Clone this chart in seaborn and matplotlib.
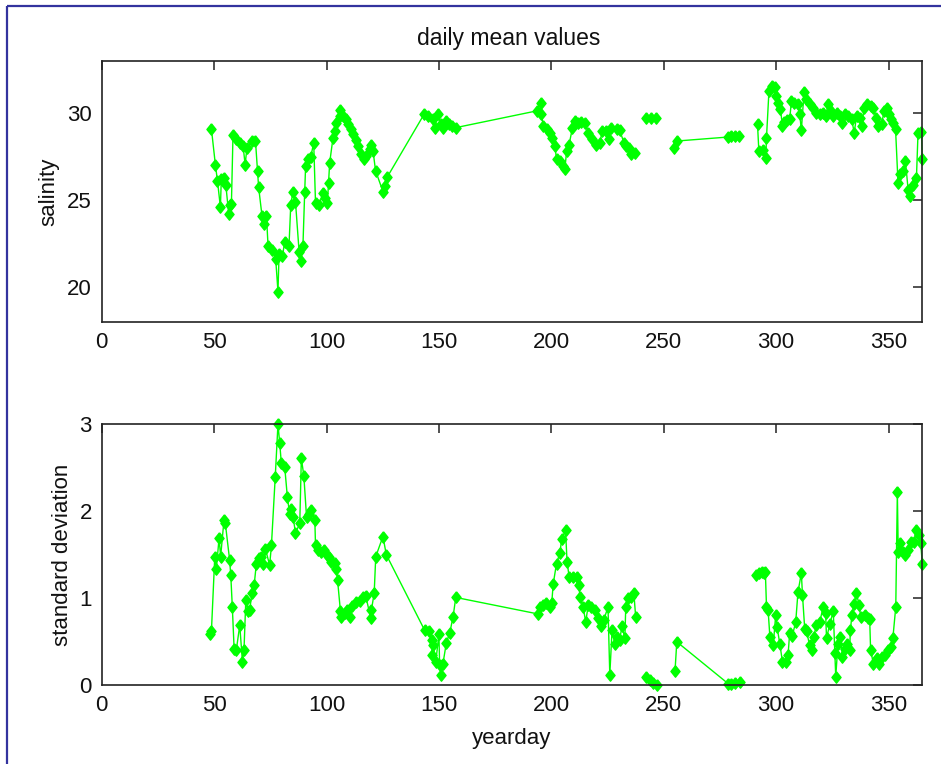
import numpy as np
import pandas as pd
import matplotlib
matplotlib.use("Agg")
import matplotlib.pyplot as plt
import seaborn as sns
from matplotlib.lines import Line2D

nan = np.nan

# ---- daily mean salinity (NaN marks a gap in the record) ----
sal_day = [48.8, 50.6, 51.5, 52.8, 53.2, 54.4, 55.2, 56.5, 56.9, 57.7, 58.4, 59.9, 61.4, 62.9,
           63.8, 64.6, 66.9, 68.4, 69.3, 69.8, 71.3, 72.2, 73.3, 74.0, 75.9, 77.4, 78.4, 78.9,
           80.4, 81.4, 83.3, 84.1, 85.1, 86.2, 87.8, 88.5, 89.5, 90.3, 90.7, 91.8, 93.0, 94.3,
           95.1, 96.7, 98.4, 99.2, 100.4, 100.9, 101.4, 102.9, 103.9, 104.4, 105.9, 106.2, 107.3,
           108.5, 109.6, 111.1, 111.8, 112.9, 114.0, 115.2, 116.5, 117.7, 119.2, 120.0, 120.7,
           121.8, 125.1, 125.9, 127.1, 143.4, 145.2, 147.4, 148.1, 149.6, 150.8, 151.8, 153.3,
           154.5, 155.6, 157.5, 193.4, 195.3, 195.6, 196.4, 197.9, 199.3, 200.5, 201.6, 202.3,
           203.8, 205.0, 206.0, 206.8, 207.9, 209.4, 210.5, 211.9, 213.4, 214.9, 216.4, 218.1,
           219.8, 221.5, 222.7, 224.5, 225.5, 226.7, 229.0, 230.4, 232.3, 233.4, 234.6, 235.6,
           237.1, 239.5, 242.3, 244.5, 246.7, 250.5, 254.5, 255.7, 278.6, 280.1, 281.6, 283.5,
           287.5, 291.7, 292.3, 294.2, 295.4, 295.7, 296.8, 298.3, 299.4, 299.8, 300.9, 301.9,
           302.8, 303.5, 304.9, 306.0, 306.8, 307.8, 309.5, 310.5, 311.2, 312.4, 313.4, 315.2,
           316.4, 317.9, 319.4, 320.9, 322.0, 323.1, 324.2, 325.4, 326.9, 328.4, 329.1, 330.6,
           332.1, 333.6, 334.7, 335.8, 337.3, 338.1, 339.1, 340.6, 342.1, 343.2, 344.4, 345.4,
           346.9, 348.0, 349.1, 350.3, 351.3, 352.0, 353.1, 354.2, 355.3, 356.5, 357.5, 358.7,
           359.7, 360.9, 362.4, 363.1, 364.6, 365.0]
salinity = [29.1, 27.0, 26.1, 24.6, 26.2, 26.3, 25.9, 24.2, 24.7, 24.8, 28.75, 28.5, 28.3, 28.1,
            27.05, 28.0, 28.4, 28.4, 26.7, 25.75, 24.1, 23.65, 24.1, 22.35, 22.15, 21.6, 19.75, 21.9,
            21.8, 22.6, 22.35, 24.75, 25.5, 24.9, 22.05, 21.5, 22.35, 25.5, 26.96, 27.35, 27.5, 28.3,
            24.85, 24.75, 25.4, 25.1, 24.85, 26.0, 27.15, 28.6, 28.98, 29.46, 29.84, 30.17, 29.84,
            29.65, 29.37, 29.08, 28.79, 28.44, 28.1, 27.67, 27.35, 27.54, 27.92, 28.2, 27.83,
            26.7, 25.5, 25.8, 26.35, 29.94, 29.84, 29.65, 29.17, 29.94, 29.37, 29.17, 29.56,
            29.37, 29.27, 29.17, 30.13, 30.6, 29.94, 29.27, 29.08, 28.88, 28.6, 28.1, 27.35,
            27.25, 26.96, 26.77, 27.83, 28.2, 29.17, 29.56, 29.46, 29.5, 29.46, 28.88, 28.5,
            28.2, 28.3, 28.98, 28.98, 28.5, 29.17, 29.08, 29.02, 28.3, 28.1, 28.0, 27.63,
            27.73, nan, 29.75, 29.75, 29.75, nan, 28.0, 28.4, 28.63, 28.69, 28.69, 28.69,
            nan, 29.37, 27.83, 27.87, 27.44, 28.6, 31.3, 31.58, 31.5, 30.99, 30.6, 30.23,
            29.27, 29.5, 29.6, 29.65, 30.7, 30.6, 30.55, 29.94, 29.02, 31.2, 30.8, 30.52,
            30.32, 30.03, 29.94, 30.03, 29.84, 30.52, 30.13, 29.84, 30.03, 29.84, 29.46, 29.94,
            29.84, 29.65, 28.88, 29.84, 29.75, 29.27, 30.32, 30.52, 30.42, 30.32, 29.75, 29.27,
            29.37, 30.13, 30.32, 29.94, 29.65, 29.46, 29.08, 26.0, 26.48, 26.67, 27.25, 25.6,
            25.23, 25.9, 26.29, 28.88, 28.94, 27.35]

# ---- daily standard deviation ----
sd_day = [48.0, 48.8, 50.3, 51.0, 52.2, 52.9, 54.4, 55.0, 56.9, 57.4, 58.1, 58.9, 59.9, 61.4,
          62.6, 63.3, 64.1, 65.1, 65.8, 66.9, 67.8, 68.8, 70.0, 71.0, 71.8, 72.8, 74.7, 75.5,
          77.2, 78.4, 79.2, 79.9, 81.4, 82.6, 83.6, 84.4, 85.1, 86.2, 88.1, 88.8, 89.9, 91.1,
          92.1, 93.3, 94.8, 95.1, 96.3, 97.7, 98.8, 100.0, 101.2, 102.2, 103.7, 104.4, 104.9,
          106.2, 106.6, 108.1, 109.1, 110.3, 111.5, 112.9, 114.8, 116.3, 117.4, 119.7, 120.0,
          121.2, 121.9, 125.1, 126.6, 143.7, 145.6, 146.7, 147.1, 147.4, 148.6, 150.0, 150.3,
          151.1, 151.8, 153.3, 154.8, 156.3, 157.5, 194.1, 194.8, 196.3, 197.8, 199.3, 200.2,
          200.8, 202.3, 203.8, 204.6, 206.3, 207.0, 207.9, 209.7, 211.2, 212.3, 212.7, 214.1,
          215.3, 216.4, 217.8, 219.3, 220.8, 222.3, 223.3, 225.2, 226.0, 227.0, 228.2, 229.2,
          230.4, 231.4, 232.7, 233.1, 234.1, 235.6, 236.7, 237.5, 240.0, 242.3, 243.8, 245.3,
          247.1, 251.0, 255.0, 255.8, 278.6, 280.1, 281.6, 283.8, 287.5, 291.2, 292.3, 293.5,
          294.5, 295.2, 295.7, 296.4, 297.2, 298.7, 299.8, 300.4, 301.6, 302.8, 304.3, 305.3,
          306.0, 307.2, 308.7, 309.7, 311.2, 311.7, 312.7, 313.5, 314.9, 316.1, 316.7, 317.9,
          319.4, 320.9, 322.0, 322.4, 323.9, 325.4, 326.1, 326.5, 327.5, 328.6, 329.5, 330.5,
          331.7, 332.7, 333.0, 333.7, 334.6, 335.7, 336.9, 337.6, 339.4, 340.9, 341.6, 342.0,
          343.2, 344.7, 345.9, 346.9, 348.4, 349.9, 351.0, 351.9, 353.2, 353.9, 354.3, 355.3,
          356.2, 357.5, 358.7, 359.9, 361.2, 362.4, 363.4, 364.3, 365.0]
std_dev = [0.59, 0.62, 1.48, 1.34, 1.69, 1.48, 1.90, 1.86, 1.44, 1.27, 0.90, 0.42, 0.41, 0.69,
           0.27, 0.41, 0.98, 0.85, 0.87, 1.06, 1.15, 1.40, 1.46, 1.48, 1.40, 1.57, 1.38, 1.61,
           2.40, 3.00, 2.78, 2.55, 2.51, 2.16, 1.97, 2.03, 1.94, 1.75, 1.86, 2.61, 2.41, 1.94,
           1.97, 2.02, 1.90, 1.61, 1.55, 1.53, 1.55, 1.50, 1.48, 1.42, 1.41, 1.34, 1.21,
           0.85, 0.79, 0.83, 0.87, 0.78, 0.91, 0.96, 0.97, 1.01, 1.03, 0.77, 0.87,
           1.06, 1.48, 1.71, 1.50, 0.63, 0.62, 0.52, 0.35, 0.46, 0.27, 0.59, 0.23,
           0.12, 0.25, 0.49, 0.60, 0.79, 1.01, 0.82, 0.90, 0.92, 0.95, 0.90, 0.95,
           1.16, 1.40, 1.52, 1.68, 1.78, 1.42, 1.25, 1.25, 1.25, 1.15, 1.02, 0.90,
           0.73, 0.92, 0.90, 0.86, 0.77, 0.68, 0.75, 0.90, 0.12, 0.63, 0.48, 0.56,
           0.52, 0.68, 0.54, 0.90, 1.00, 1.02, 1.06, 0.79, nan, 0.10, 0.06, 0.03,
           0.00, nan, 0.16, 0.50, 0.02, 0.01, 0.03, 0.04, nan, 1.27, 1.29, 1.30,
           1.29, 1.30, 0.90, 0.87, 0.56, 0.46, 0.81, 0.67, 0.48, 0.27, 0.27, 0.35,
           0.60, 0.57, 0.73, 1.07, 1.29, 1.04, 0.65, 0.62, 0.46, 0.41, 0.56, 0.69,
           0.73, 0.90, 0.83, 0.54, 0.71, 0.85, 0.37, 0.10, 0.48, 0.56, 0.33, 0.42,
           0.48, 0.41, 0.63, 0.81, 0.94, 1.06, 0.92, 0.79, 0.81, 0.77, 0.76, 0.41,
           0.25, 0.31, 0.25, 0.33, 0.35, 0.41, 0.44, 0.54, 0.90, 2.22, 1.53, 1.63,
           1.53, 1.50, 1.55, 1.65, 1.65, 1.79, 1.73, 1.63, 1.40]

title_text = "daily mean values"
xlabel_text = "yearday"
ylabel_top = "salinity"
ylabel_bottom = "standard deviation"
x_ticks = [0, 50, 100, 150, 200, 250, 300, 350]
sal_ticks = [20, 25, 30]
sd_ticks = [0, 1, 2, 3]

sns.set_theme(style="white")
plt.rcParams["font.family"] = ["Liberation Sans", "DejaVu Sans"]

W, H = 941, 764
fig = plt.figure(figsize=(W / 100, H / 100), dpi=100)
fig.patch.set_facecolor("white")

L, R = 101.7, 922.3
ax1 = fig.add_axes([L / W, 1 - 322 / H, (R - L) / W, (322 - 61) / H])
ax2 = fig.add_axes([L / W, 1 - 685.3 / H, (R - L) / W, (685.3 - 424.3) / H])

green = (0, 1, 0)
diamond = [(0, 1), (0.8, 0), (0, -1), (-0.8, 0), (0, 1)]


def draw(ax, day, val):
    df = pd.DataFrame({"day": day, "val": val})
    df["seg"] = df["val"].isna().cumsum()
    df = df.dropna()
    sns.lineplot(data=df, x="day", y="val", units="seg", estimator=None, sort=False,
                 color=green, lw=1.0, marker=diamond, markersize=8.2, mew=1.0,
                 mec=green, mfc=green, ax=ax, legend=False, clip_on=False)


draw(ax1, sal_day, salinity)
draw(ax2, sd_day, std_dev)

fs = 16
for ax, yt in ((ax1, sal_ticks), (ax2, sd_ticks)):
    ax.set_xlim(0, 365)
    ax.set_xticks(x_ticks)
    ax.set_yticks(yt)
    ax.tick_params(direction="in", top=True, right=True, length=6.5, width=1.1,
                   color="#222222", labelsize=fs, pad=7, labelcolor="#111111")
    for s in ax.spines.values():
        s.set_visible(True)
        s.set_color("#222222")
        s.set_linewidth(1.2)
    ax.set_xlabel("")
    ax.set_ylabel("")

ax1.set_ylim(18, 33)
ax2.set_ylim(0, 3)

ax1.set_ylabel(ylabel_top, fontsize=fs, color="#111111")
ax1.yaxis.set_label_coords(-0.052, 0.5)
ax2.set_ylabel(ylabel_bottom, fontsize=fs, color="#111111")
ax2.yaxis.set_label_coords(-0.035, 0.5)
ax2.set_xlabel(xlabel_text, fontsize=fs, color="#111111")
ax2.xaxis.set_label_coords(0.5, -0.165)

fig.text(509 / W, 1 - 38 / H, title_text, ha="center", va="center", fontsize=16.5,
         color="#111111")

# figure frame (blue lines at top and left)
blue = (0.2, 0.2, 0.62)
fig.add_artist(Line2D([6.7 / W, 6.7 / W], [0, 1 - 5.7 / H], transform=fig.transFigure,
                      color=blue, lw=1.6, solid_capstyle="butt"))
fig.add_artist(Line2D([6.7 / W, 1], [1 - 5.7 / H, 1 - 5.7 / H], transform=fig.transFigure,
                      color=blue, lw=1.6, solid_capstyle="butt"))

fig.savefig("out.png", dpi=100)
